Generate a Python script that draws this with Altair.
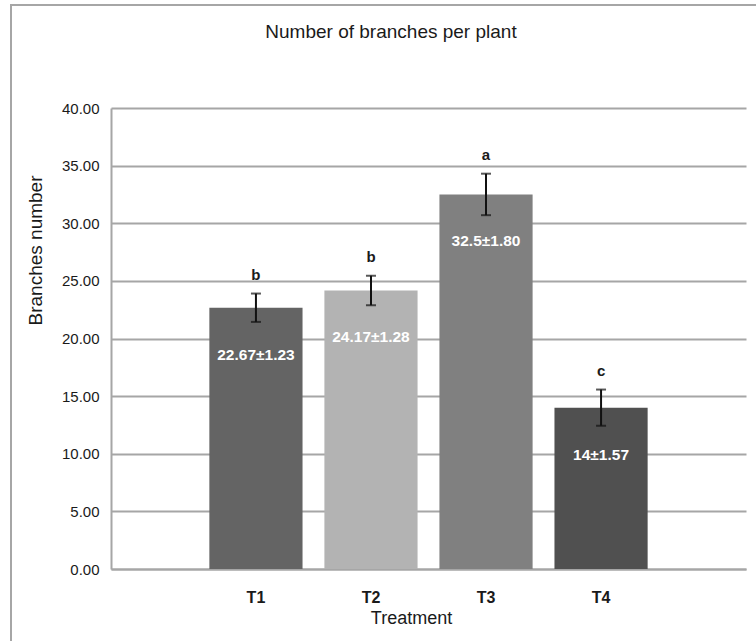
import altair as alt
import pandas as pd

# Mean number of branches per plant for each treatment, with ± error and group letters
treatments = ["T1", "T2", "T3", "T4"]
means = [22.67, 24.17, 32.5, 14.0]
errors = [1.23, 1.28, 1.80, 1.57]
groups = ["b", "b", "a", "c"]
value_labels = ["22.67±1.23", "24.17±1.28", "32.5±1.80", "14±1.57"]
bar_colors = ["#646464", "#b3b3b3", "#808080", "#505050"]
y_ticks = [0, 5, 10, 15, 20, 25, 30, 35, 40]

FONT = "Liberation Sans"
TEXT = "#1a1a1a"
GRID = "#a6a6a6"

df = pd.DataFrame({
    "treatment": treatments,
    "mean": means,
    "err": errors,
    "group": groups,
    "label": value_labels,
})
df["low"] = df["mean"] - df["err"]
df["high"] = df["mean"] + df["err"]

y_scale = alt.Scale(domain=[0, 40], nice=False)
y_title = "Branches number"

x_enc = alt.X(
    "treatment:N",
    sort=treatments,
    scale=alt.Scale(paddingInner=0.19, paddingOuter=0.855),
    axis=alt.Axis(
        title="Treatment",
        labelAngle=0,
        ticks=False,
        labelFont=FONT,
        labelFontSize=16,
        labelFontWeight="bold",
        labelColor=TEXT,
        labelPadding=20,
        domainColor=GRID,
        domainWidth=2,
        titleFont=FONT,
        titleFontSize=18,
        titleFontWeight="normal",
        titleColor=TEXT,
        titleX=300,
        titleY=49,
        titleAlign="center",
        titleBaseline="middle",
    ),
)

base = alt.Chart(df)

bars = base.mark_bar().encode(
    x=x_enc,
    y=alt.Y(
        "mean:Q",
        scale=y_scale,
        title=y_title,
        axis=alt.Axis(
            values=y_ticks,
            format=".2f",
            ticks=False,
            grid=True,
            gridColor=GRID,
            gridWidth=2,
            domainColor=GRID,
            domainWidth=2,
            labelFont=FONT,
            labelFontSize=15,
            labelColor=TEXT,
            labelPadding=12,
            titleFont=FONT,
            titleFontSize=19,
            titleFontWeight="normal",
            titleColor=TEXT,
            titleX=-76,
            titleY=142,
            titleAngle=270,
            titleAlign="center",
            titleBaseline="middle",
        ),
    ),
    color=alt.Color(
        "treatment:N",
        scale=alt.Scale(domain=treatments, range=bar_colors),
        legend=None,
    ),
)

whiskers = base.mark_rule(color="#111111", strokeWidth=2).encode(
    x=alt.X("treatment:N", sort=treatments),
    y=alt.Y("low:Q", scale=y_scale, title=y_title),
    y2="high:Q",
)

cap_low = base.mark_tick(color="#111111", thickness=2, size=10).encode(
    x=alt.X("treatment:N", sort=treatments),
    y=alt.Y("low:Q", scale=y_scale, title=y_title),
)

cap_high = base.mark_tick(color="#111111", thickness=2, size=10).encode(
    x=alt.X("treatment:N", sort=treatments),
    y=alt.Y("high:Q", scale=y_scale, title=y_title),
)

letters = base.mark_text(
    dy=-19, font=FONT, fontSize=15, fontWeight="bold", color=TEXT,
    baseline="middle",
).encode(
    x=alt.X("treatment:N", sort=treatments),
    y=alt.Y("high:Q", scale=y_scale, title=y_title),
    text="group:N",
)

inside = base.mark_text(
    dy=47, font=FONT, fontSize=15.5, fontWeight="bold", color="white",
    baseline="middle",
).encode(
    x=alt.X("treatment:N", sort=treatments),
    y=alt.Y("mean:Q", scale=y_scale, title=y_title),
    text="label:N",
)

# Frame around the whole figure and the heading text
single = alt.Chart(pd.DataFrame({"k": [0]}))

frame = single.mark_rect(fillOpacity=0, stroke=GRID, strokeWidth=2).encode(
    x=alt.value(-100), x2=alt.value(700),
    y=alt.value(-103), y2=alt.value(600),
)

heading = single.mark_text(
    font=FONT, fontSize=19, color=TEXT, align="center", baseline="middle",
).encode(
    x=alt.value(280), y=alt.value(-76),
    text=alt.value("Number of branches per plant"),
)

chart = alt.layer(
    frame, bars, whiskers, cap_low, cap_high, letters, inside, heading
).properties(
    width=635,
    height=461,
    autosize=alt.AutoSizeParams(type="none"),
    padding={"left": 111, "top": 108, "right": 10, "bottom": 72},
    background="white",
).configure_view(stroke=None)

chart.save("out.html", embed_options={"renderer": "svg", "actions": False})
